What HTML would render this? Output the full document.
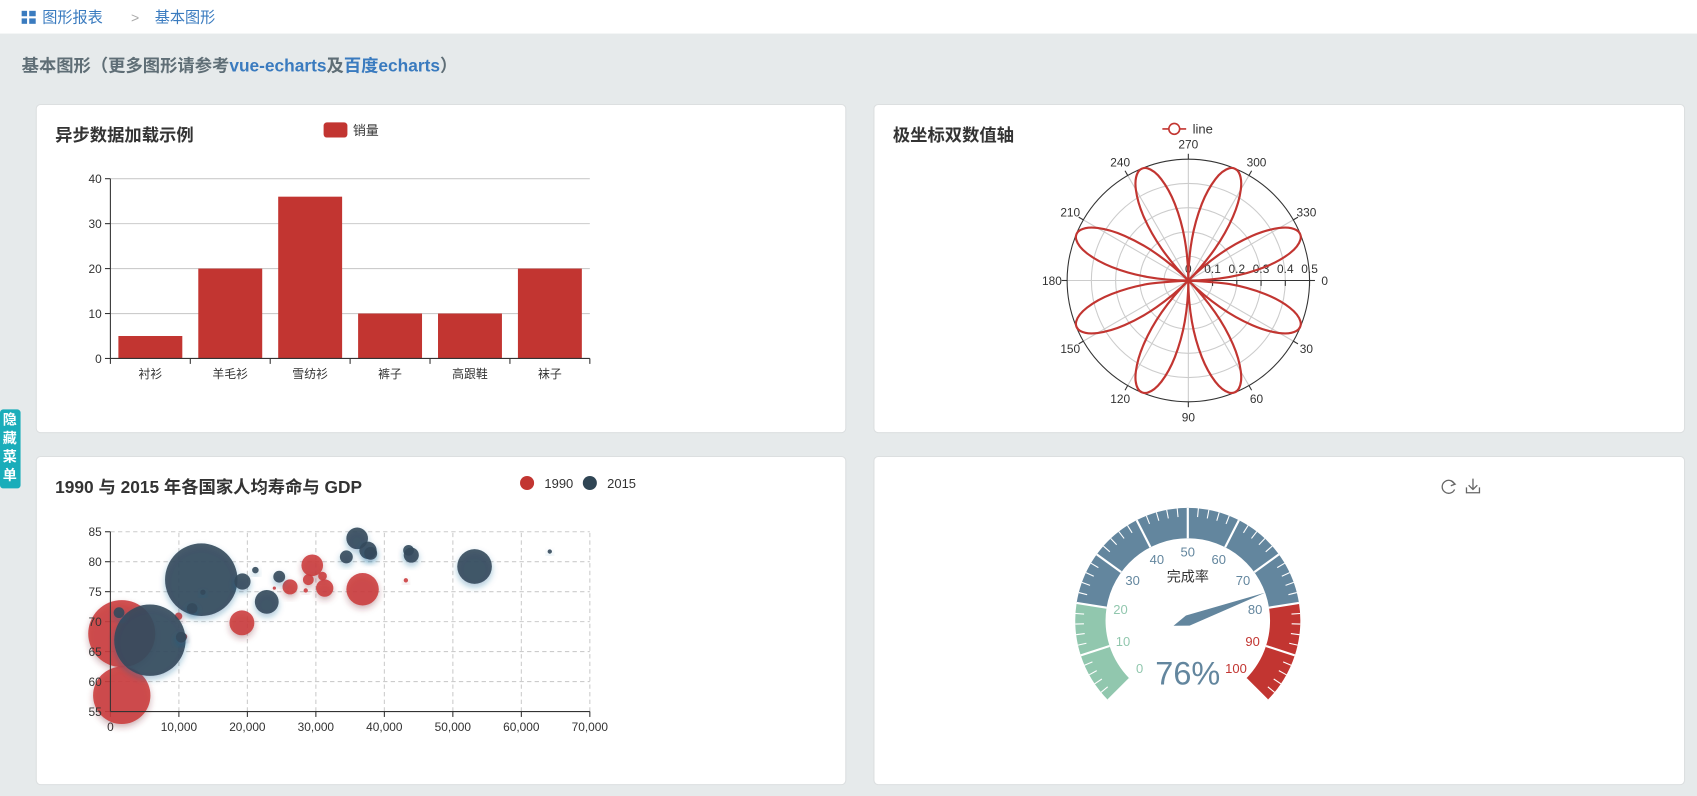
<!DOCTYPE html>
<html><head><meta charset="utf-8">
<style>
html,body{margin:0;padding:0;background:#e6eaeb;overflow:hidden}
svg{display:block}
text{font-family:"Liberation Sans","Noto Sans CJK SC",sans-serif}
</style></head>
<body>
<svg id="root" width="1697" height="796" viewBox="0 0 1568 735" preserveAspectRatio="none" xmlns="http://www.w3.org/2000/svg">
<defs>
<filter id="blurR" x="-50%" y="-50%" width="200%" height="200%"><feDropShadow dx="0" dy="3" stdDeviation="3" flood-color="rgb(120,36,50)" flood-opacity="0.4"/></filter>
<filter id="blurB" x="-50%" y="-50%" width="200%" height="200%"><feDropShadow dx="0" dy="3" stdDeviation="3" flood-color="rgb(25,100,150)" flood-opacity="0.4"/></filter>
</defs>
<rect x="0" y="0" width="1568" height="735" fill="#e6eaeb"/>
<g>
<rect x="0" y="0" width="1568" height="31" fill="#fff"/>
<g fill="#3a7bbf">
<rect x="20" y="10" width="5" height="5"/><rect x="27" y="10" width="6" height="5"/><rect x="20" y="17" width="5" height="5"/><rect x="27" y="17" width="6" height="5"/></g>
<text x="39" y="21" font-size="14" fill="#3a7bbf">图形报表</text>
<text x="121" y="21" font-size="13" fill="#aaa">&gt;</text>
<text x="143" y="21" font-size="14" fill="#3a7bbf">基本图形</text>
</g>
<text x="20" y="66" font-size="16" font-weight="bold" fill="#5f6e76">基本图形（更多图形请参考<tspan fill="#3a7bbf">vue-echarts</tspan>及<tspan fill="#3a7bbf">百度echarts</tspan>）</text>

<rect x="33.5" y="96.5" width="748" height="303" rx="4" fill="#fff" stroke="#dcdfe0"/>
<rect x="807.5" y="96.5" width="749" height="303" rx="4" fill="#fff" stroke="#dcdfe0"/>
<rect x="33.5" y="421.5" width="748" height="303" rx="4" fill="#fff" stroke="#dcdfe0"/>
<rect x="807.5" y="421.5" width="749" height="303" rx="4" fill="#fff" stroke="#dcdfe0"/>

<g>
<rect x="0" y="378" width="19" height="73" rx="3" fill="#1aadba"/>
<text x="9" y="392" font-size="13" font-weight="bold" fill="#fff" text-anchor="middle">隐</text>
<text x="9" y="409" font-size="13" font-weight="bold" fill="#fff" text-anchor="middle">藏</text>
<text x="9" y="426" font-size="13" font-weight="bold" fill="#fff" text-anchor="middle">菜</text>
<text x="9" y="443" font-size="13" font-weight="bold" fill="#fff" text-anchor="middle">单</text>
</g>

<!-- bar chart -->
<g id="bar">
<text x="51" y="130" font-size="16" font-weight="bold" fill="#333">异步数据加载示例</text>
<rect x="299" y="113" width="22" height="14" rx="3" fill="#c23531"/>
<text x="326" y="124.5" font-size="12" fill="#333">销量</text>
</g>

<!-- polar -->
<g id="polar">
<text x="825" y="130" font-size="16" font-weight="bold" fill="#333">极坐标双数值轴</text>
<g>
<line x1="1074" y1="119" x2="1096" y2="119" stroke="#c23531" stroke-width="1.5"/>
<circle cx="1085" cy="119" r="5" fill="#fff" stroke="#c23531" stroke-width="1.5"/>
<text x="1102" y="123.5" font-size="12" fill="#333">line</text>
</g>
</g>

<!-- scatter -->
<g id="scatter">
<text x="51" y="455" font-size="16" font-weight="bold" fill="#333">1990 与 2015 年各国家人均寿命与 GDP</text>
<circle cx="487" cy="446" r="6.5" fill="#c23531"/>
<text x="503" y="450.5" font-size="12" fill="#333">1990</text>
<circle cx="545" cy="446" r="6.5" fill="#2f4554"/>
<text x="561" y="450.5" font-size="12" fill="#333">2015</text>
</g>

<!-- gauge -->
<g id="gauge">
<g fill="none" stroke="#666" stroke-width="1.2">
<path d="M1344 447 A6 6 0 1 0 1344 452"/><path d="M1341 444 L1344.5 447 L1340.5 448.5"/>
</g>
<g fill="none" stroke="#666" stroke-width="1.2">
<path d="M1361 442 V452 M1357 448 L1361 452 L1365 448 M1355 450 V455 H1367 V450"/>
</g>
</g>
</svg>
<script>
const NS='http://www.w3.org/2000/svg';
function mk(parent,tag,attrs){const e=document.createElementNS(NS,tag);for(const k in attrs)e.setAttribute(k,attrs[k]);parent.appendChild(e);return e;}

// ---------- BAR DATA ----------
const barCategories=['衬衫','羊毛衫','雪纺衫','裤子','高跟鞋','袜子'];
const barValues=[5,20,36,10,10,20];
const barTicks=[0,10,20,30,40];

// ---------- POLAR DATA (radius per 5 degrees, 0..360) ----------
const polarAngles=[0,5,10,15,20,25,30,35,40,45,50,55,60,65,70,75,80,85,90,95,100,105,110,115,120,125,130,135,140,145,150,155,160,165,170,175,180,185,190,195,200,205,210,215,220,225,230,235,240,245,250,255,260,265,270,275,280,285,290,295,300,305,310,315,320,325,330,335,340,345,350,355,360];
const polarRadii=[0,.171,.321,.433,.492,.492,.433,.321,.171,0,-.171,-.321,-.433,-.492,-.492,-.433,-.321,-.171,
0,.171,.321,.433,.492,.492,.433,.321,.171,0,-.171,-.321,-.433,-.492,-.492,-.433,-.321,-.171,
0,.171,.321,.433,.492,.492,.433,.321,.171,0,-.171,-.321,-.433,-.492,-.492,-.433,-.321,-.171,
0,.171,.321,.433,.492,.492,.433,.321,.171,0,-.171,-.321,-.433,-.492,-.492,-.433,-.321,-.171,0];
const polarRadiusTicks=[0,0.1,0.2,0.3,0.4,0.5];
const polarAngleTicks=[0,30,60,90,120,150,180,210,240,270,300,330];

// ---------- SCATTER DATA ----------
const gdp1990=[1659,1659,19200,9955,10745,29470,28900,30970,31290,26230,36820,23940,28520,43140];
const life1990=[68.0,57.7,69.8,70.9,67.5,79.4,77.0,77.6,75.6,75.8,75.4,75.6,75.2,76.9];
const pop1990=[1124,822,155,14,10.5,117,29,19,75,57,263,2.6,4.7,4.7];
const gdp2015=[13270,5770,1264,11930,13510,10350,19280,21170,22830,24650,34450,36030,37610,38000,43530,43930,53170,64150];
const life2015=[77.0,66.9,71.5,72.2,74.9,67.4,76.7,78.6,73.3,77.5,80.8,83.9,81.9,81.4,81.9,81.1,79.2,81.7];
const pop2015=[1313,1274,29,29,7,29,66,10.5,142,35,42,117,75,42,29,57,300,4.7];
const scatterXTicks=[0,10000,20000,30000,40000,50000,60000,70000];
const scatterXLabels=['0','10,000','20,000','30,000','40,000','50,000','60,000','70,000'];
const scatterYTicks=[55,60,65,70,75,80,85];

// ---------- GAUGE DATA ----------
const gaugeValue=76;
const gaugeTicks=[0,10,20,30,40,50,60,70,80,90,100];

// ===== BAR =====
(function(){
const g=document.getElementById('bar');
const x0=102,x1=545,y0=331,y1=165,maxV=40;
const ys=v=>y0-(v/maxV)*(y0-y1);
const band=(x1-x0)/barCategories.length;
barTicks.forEach(t=>{
 if(t>0){const l=mk(g,'line',{x1:x0,x2:x1,y1:ys(t),y2:ys(t),stroke:'#ccc'});
 
 }
 const tk=mk(g,'line',{x1:x0-5,x2:x0,y1:ys(t),y2:ys(t),stroke:'#333'});
 
 
 const tx=mk(g,'text',{x:x0-8,y:ys(t)+4,'font-size':11,fill:'#333','text-anchor':'end'});tx.textContent=t;
 
 
});
barValues.forEach((v,i)=>{
 const bw=band*0.8;const bx=x0+band*i+(band-bw)/2;
 const r=mk(g,'rect',{x:bx,y:ys(v),width:bw,height:y0-ys(v),fill:'#c23531'});
 
 
 const t=mk(g,'text',{x:x0+band*(i+0.5),y:y0+18,'font-size':11,fill:'#333','text-anchor':'middle'});t.textContent=barCategories[i];
 
 
});
for(let i=0;i<=barCategories.length;i++){const tk=mk(g,'line',{x1:x0+band*i,x2:x0+band*i,y1:y0,y2:y0+5,stroke:'#333'});
 
 }
const ax=mk(g,'line',{x1:x0,x2:x1,y1:y0,y2:y0,stroke:'#333'});


const ay=mk(g,'line',{x1:x0,x2:x0,y1:y0,y2:y1,stroke:'#333'});


})();

// ===== POLAR =====
(function(){
const g=document.getElementById('polar');
const cx=1098,cy=259,R=112,maxR=0.5;
const rs=v=>v/maxR*R;
const pt=(r,a)=>[cx+rs(r)*Math.cos(a*Math.PI/180),cy+rs(r)*Math.sin(a*Math.PI/180)];
polarRadiusTicks.forEach(t=>{if(t>0&&t<maxR){const c=mk(g,'circle',{cx:cx,cy:cy,r:rs(t),fill:'none',stroke:'#ccc'});
 
 }});
polarAngleTicks.forEach(a=>{
 const p=pt(maxR,a);const l=mk(g,'line',{x1:cx,y1:cy,x2:p[0],y2:p[1],stroke:'#ccc'});
 
 
 const q=[cx+(R+5)*Math.cos(a*Math.PI/180),cy+(R+5)*Math.sin(a*Math.PI/180)];
 const tk=mk(g,'line',{x1:p[0],y1:p[1],x2:q[0],y2:q[1],stroke:'#333'});
 
 
 const lr=R+14;const lx=cx+lr*Math.cos(a*Math.PI/180),ly=cy+lr*Math.sin(a*Math.PI/180);
 const t=mk(g,'text',{x:lx,y:ly+4,'font-size':11,fill:'#333','text-anchor':'middle'});t.textContent=a;
 
 
});
const oc=mk(g,'circle',{cx:cx,cy:cy,r:R,fill:'none',stroke:'#333'});


const ra=mk(g,'line',{x1:cx,y1:cy,x2:cx+R,y2:cy,stroke:'#333'});


polarRadiusTicks.forEach(t=>{
 const tk=mk(g,'line',{x1:cx+rs(t),x2:cx+rs(t),y1:cy,y2:cy+5,stroke:'#333'});
 
 
 const tx=mk(g,'text',{x:cx+rs(t),y:cy-7,'font-size':11,fill:'#333','text-anchor':'middle'});tx.textContent=t;
 
 
});
const P=polarRadii.map((r,i)=>pt(r,polarAngles[i]));
let d='M'+P[0][0]+' '+P[0][1];
for(let i=0;i<P.length-1;i++){
 const p0=P[Math.max(0,i-1)],p1=P[i],p2=P[i+1],p3=P[Math.min(P.length-1,i+2)];
 const c1=[p1[0]+(p2[0]-p0[0])/6,p1[1]+(p2[1]-p0[1])/6],c2=[p2[0]-(p3[0]-p1[0])/6,p2[1]-(p3[1]-p1[1])/6];
 d+=` C${c1[0]} ${c1[1]} ${c2[0]} ${c2[1]} ${p2[0]} ${p2[1]}`;
}
const line=mk(g,'path',{d:d,fill:'none',stroke:'#c23531','stroke-width':2});


})();

// ===== SCATTER =====
(function(){
const g=document.getElementById('scatter');
const x0=102,x1=545,y0=657,y1=491;
const xs=v=>x0+v/70000*(x1-x0);
const ys=v=>y0-(v-55)/30*(y0-y1);
const rad=p=>Math.sqrt(p*1e6)/500/2/1.0823;
scatterYTicks.forEach(t=>{
 if(t>55){const l=mk(g,'line',{x1:x0,x2:x1,y1:ys(t),y2:ys(t),stroke:'#ccc','stroke-dasharray':'4 3'});
 
 }
 const tk=mk(g,'line',{x1:x0-5,x2:x0,y1:ys(t),y2:ys(t),stroke:'#333'});
 
 
});
scatterXTicks.forEach((t,i)=>{
 if(t>0){const l=mk(g,'line',{x1:xs(t),x2:xs(t),y1:y0,y2:y1,stroke:'#ccc','stroke-dasharray':'4 3'});
 
 }
 const tk=mk(g,'line',{x1:xs(t),x2:xs(t),y1:y0,y2:y0+5,stroke:'#333'});
 
 
 const tx=mk(g,'text',{x:xs(t),y:y0+18,'font-size':11,fill:'#333','text-anchor':'middle'});tx.textContent=scatterXLabels[i];
 
 
});
gdp1990.forEach((v,i)=>{
 const c=mk(g,'circle',{cx:xs(v),cy:ys(life1990[i]),r:rad(pop1990[i]),fill:'#cb3a3c','fill-opacity':0.88,filter:'url(#blurR)'});
 
 
});
gdp2015.forEach((v,i)=>{
 const c=mk(g,'circle',{cx:xs(v),cy:ys(life2015[i]),r:rad(pop2015[i]),fill:'#33495b','fill-opacity':0.9,filter:'url(#blurB)'});
 
 
});
scatterYTicks.forEach(t=>{
 const tx=mk(g,'text',{x:x0-8,y:ys(t)+4,'font-size':11,fill:'#333','text-anchor':'end'});tx.textContent=t;
 
 
});
const ax=mk(g,'line',{x1:x0,x2:x1,y1:y0,y2:y0,stroke:'#333'});


const ay=mk(g,'line',{x1:x0,x2:x0,y1:y0,y2:y1,stroke:'#333'});


})();

// ===== GAUGE =====
(function(){
const g=document.getElementById('gauge');
const cx=1097.5,cy=573,R=104,W=28,ri=R-W;
const ang=v=>(225-v/100*270)*Math.PI/180;
const P=(r,a)=>[cx+r*Math.cos(a),cy-r*Math.sin(a)];
const segs=[[0,20,'#91c7ae'],[20,80,'#63869e'],[80,100,'#c23531']];
segs.forEach(s=>{
 const a1=ang(s[0]),a2=ang(s[1]);const large=(s[1]-s[0])*2.7>180?1:0;
 const o1=P(R,a1),o2=P(R,a2),i2=P(ri,a2),i1=P(ri,a1);
 const p=mk(g,'path',{d:`M${o1[0]} ${o1[1]} A${R} ${R} 0 ${large} 1 ${o2[0]} ${o2[1]} L${i2[0]} ${i2[1]} A${ri} ${ri} 0 ${large} 0 ${i1[0]} ${i1[1]} Z`,fill:s[2]});
 
 
});
for(let v=0;v<=100;v+=2){
 const a=ang(v);const big=v%10===0;const p1=P(R,a),p2=P(big?ri:R-8,a);
 const l=mk(g,'line',{x1:p1[0],y1:p1[1],x2:p2[0],y2:p2[1],stroke:'#fff','stroke-width':big?2:1});
 
 
}
gaugeTicks.forEach(t=>{
 const a=ang(t);const p=P(ri-13,a);
 const col=t<=20?'#91c7ae':(t<=80?'#63869e':'#c23531');
 const tx=mk(g,'text',{x:p[0],y:p[1]+4,'font-size':12,fill:col,'text-anchor':'middle'});tx.textContent=t;
 
 
});
const ti=mk(g,'text',{x:cx,y:cy-36,'font-size':13,fill:'#333','text-anchor':'middle'});ti.textContent='完成率';


const a=ang(gaugeValue);const L=76;
const dx=Math.cos(a),dy=-Math.sin(a);const px=-dy,py=dx;
const tip=[cx+dx*L,cy+dy*L];
const pts=[tip,[cx+px*5,cy+py*5],[cx-dx*14-px*0,cy-dy*14],[cx-px*5,cy-py*5]];
const nd=mk(g,'polygon',{points:pts.map(p=>p.join(',')).join(' '),fill:'#63869e'});


const vt=mk(g,'text',{x:cx,y:cy+59,'font-size':30,fill:'#63869e','text-anchor':'middle'});vt.textContent=gaugeValue+'%';


})();
</script>
</body></html>
